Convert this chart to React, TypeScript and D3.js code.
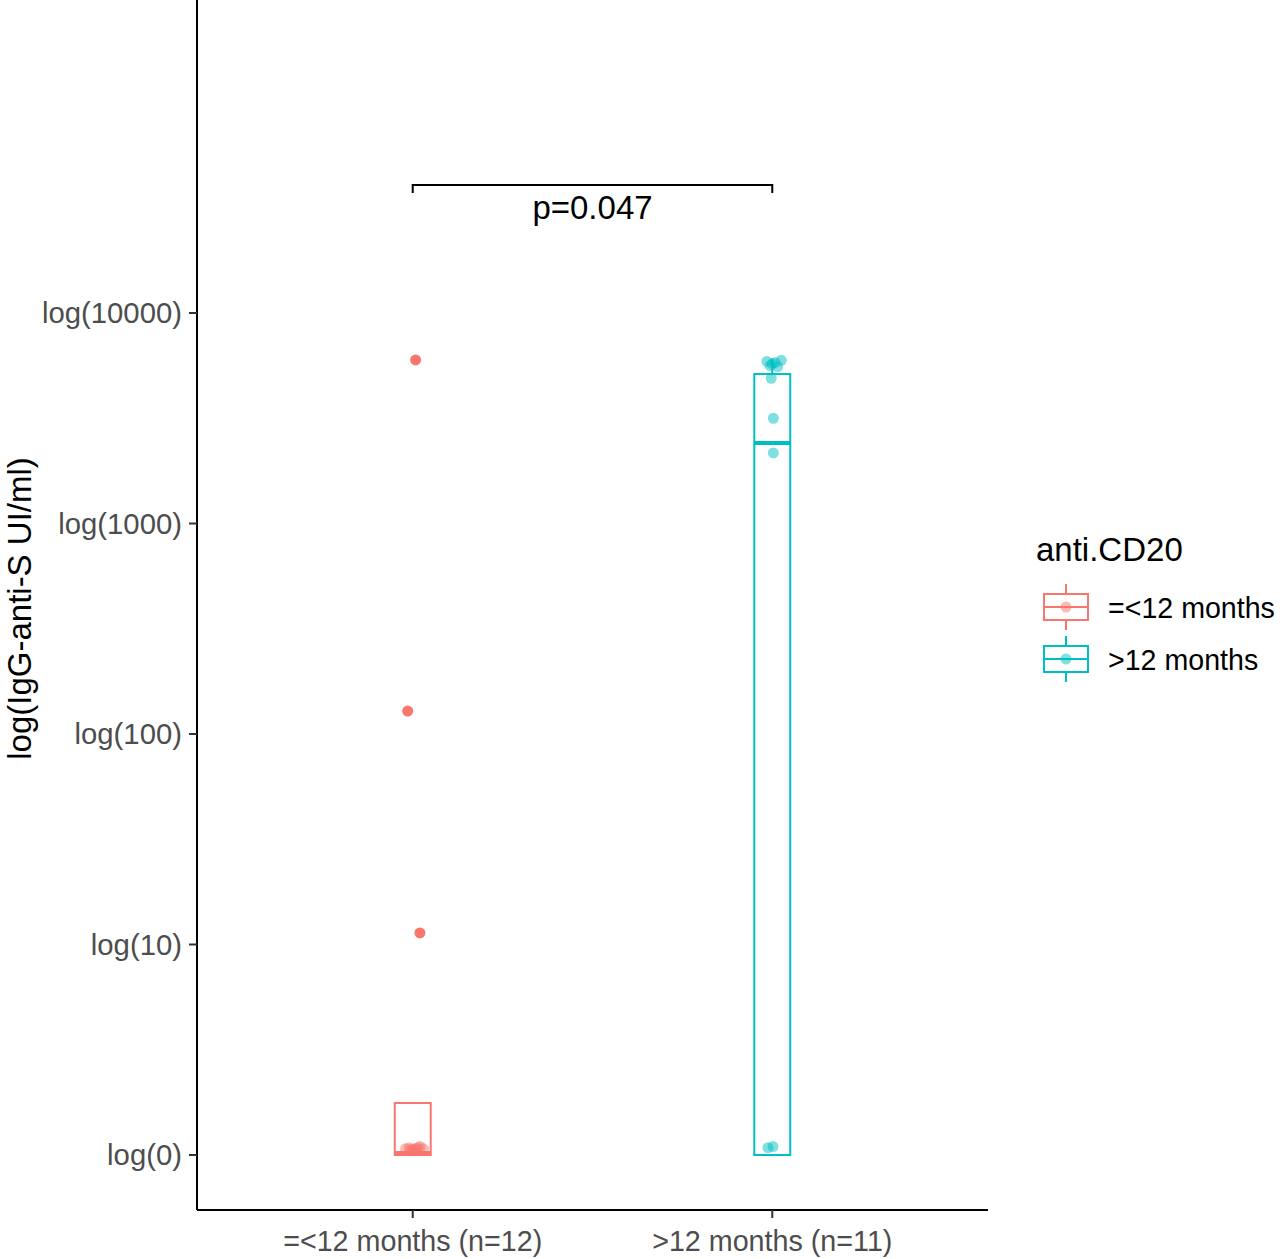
import * as d3 from 'd3';
import { useEffect, useRef } from 'react';

// categories / legend
const groups = ['=<12 months', '>12 months'];
const groupCounts = [12, 11];
const colors = ['#F8766D', '#00BFC4'];

// y ticks (log10 scale)
const tickValues = [0, 1, 2, 3, 4];
const tickLabels = ['log(0)', 'log(10)', 'log(100)', 'log(1000)', 'log(10000)'];

// box statistics: [lower, q1, median, q3, upper]
const boxStats = [
  [0, 0, 0.01, 0.247, 0.247],
  [0, 0, 3.382, 3.71, 3.78],
];

// jittered points: value (log10), x jitter (category units), outlier flag
const pts1 = [3.777, 2.109, 1.055, 0.03, 0.035, 0.025, 0.03, 0.04, 0.03, 0.025, 0.035, 0.03];
const jit1 = [0.008, -0.014, 0.02, -0.02, -0.01, 0.0, 0.01, 0.02, 0.03, -0.005, 0.015, 0.005];
const out1 = [true, true, true, false, false, false, false, false, false, false, false, false];

const pts2 = [3.77, 3.76, 3.745, 3.775, 3.765, 3.75, 3.69, 3.50, 3.335, 0.035, 0.04];
const jit2 = [-0.015, 0.0, 0.015, 0.025, 0.008, -0.006, -0.003, 0.003, 0.003, -0.012, 0.002];

const pValue = 'p=0.047';

export default function App() {
  const ref = useRef<SVGSVGElement>(null);

  useEffect(() => {
    const w = 1280, h = 1259;
    const left = 197, right = 988, top = 0, bottom = 1210;
    const font = '"Liberation Sans", Arial, sans-serif';

    const svg = d3.select(ref.current);
    svg.selectAll('*').remove();
    svg.attr('width', w).attr('height', h);

    const x = d3.scaleLinear().domain([0.4, 2.6]).range([left, right]);
    const y = d3.scaleLinear().domain([0, 4]).range([1155, 313]);

    // axes
    svg.append('line')
      .attr('x1', left).attr('x2', left).attr('y1', top).attr('y2', bottom)
      .attr('stroke', '#000').attr('stroke-width', 2);
    svg.append('line')
      .attr('x1', left).attr('x2', right).attr('y1', bottom).attr('y2', bottom)
      .attr('stroke', '#000').attr('stroke-width', 2);

    tickValues.forEach((v, i) => {
      svg.append('line')
        .attr('x1', left - 8).attr('x2', left).attr('y1', y(v)).attr('y2', y(v))
        .attr('stroke', '#333').attr('stroke-width', 2);
      svg.append('text')
        .attr('x', left - 15).attr('y', y(v))
        .attr('dy', '0.35em')
        .attr('text-anchor', 'end')
        .style('font-family', font).style('font-size', '29.3px')
        .style('fill', '#4D4D4D')
        .text(tickLabels[i]);
    });

    groups.forEach((g, i) => {
      const cx = x(i + 1);
      svg.append('line')
        .attr('x1', cx).attr('x2', cx).attr('y1', bottom).attr('y2', bottom + 8)
        .attr('stroke', '#333').attr('stroke-width', 2);
      svg.append('text')
        .attr('x', cx).attr('y', bottom + 41)
        .attr('text-anchor', 'middle')
        .style('font-family', font).style('font-size', '28.7px')
        .style('fill', '#4D4D4D')
        .text(`${g} (n=${groupCounts[i]})`);
    });

    svg.append('text')
      .attr('transform', `translate(31, ${(455 + 762) / 2}) rotate(-90)`)
      .attr('text-anchor', 'middle')
      .style('font-family', font).style('font-size', '33px')
      .style('fill', '#000')
      .text('log(IgG-anti-S UI/ml)');

    // boxplots
    const halfW = (x(1.05) - x(1));
    boxStats.forEach((s, i) => {
      const [lo, q1, med, q3, hi] = s;
      const cx = x(i + 1);
      const g = svg.append('g').attr('stroke', colors[i]).attr('fill', 'none');
      g.append('line').attr('x1', cx).attr('x2', cx).attr('y1', y(q3)).attr('y2', y(hi)).attr('stroke-width', 2);
      g.append('line').attr('x1', cx).attr('x2', cx).attr('y1', y(q1)).attr('y2', y(lo)).attr('stroke-width', 2);
      g.append('rect')
        .attr('x', cx - halfW).attr('width', halfW * 2)
        .attr('y', y(q3)).attr('height', y(q1) - y(q3))
        .attr('fill', '#fff').attr('stroke-width', 2);
      g.append('line')
        .attr('x1', cx - halfW).attr('x2', cx + halfW)
        .attr('y1', y(med)).attr('y2', y(med))
        .attr('stroke-width', 4);
    });

    // points
    const drawPts = (vals: number[], jit: number[], out: boolean[] | null, i: number) => {
      vals.forEach((v, k) => {
        svg.append('circle')
          .attr('cx', x(i + 1 + jit[k]))
          .attr('cy', y(v))
          .attr('r', 5.5)
          .attr('fill', colors[i])
          .attr('fill-opacity', out && out[k] ? 1 : 0.5);
      });
    };
    drawPts(pts1, jit1, out1, 0);
    drawPts(pts2, jit2, null, 1);

    // significance bracket
    const by = 185;
    const bx1 = x(1), bx2 = x(2);
    svg.append('path')
      .attr('d', `M${bx1},${by + 8}V${by}H${bx2}V${by + 8}`)
      .attr('fill', 'none').attr('stroke', '#000').attr('stroke-width', 2);
    svg.append('text')
      .attr('x', (bx1 + bx2) / 2).attr('y', 219)
      .attr('text-anchor', 'middle')
      .style('font-family', font).style('font-size', '33px')
      .style('fill', '#000')
      .text(pValue);

    // legend
    const lg = svg.append('g');
    lg.append('text')
      .attr('x', 1036).attr('y', 561)
      .style('font-family', font).style('font-size', '33px')
      .style('fill', '#000')
      .text('anti.CD20');
    groups.forEach((g, i) => {
      const cy = 607 + i * 52;
      const kx = 1066;
      const k = lg.append('g').attr('stroke', colors[i]).attr('fill', 'none').attr('stroke-width', 2);
      k.append('line').attr('x1', kx).attr('x2', kx).attr('y1', cy - 23).attr('y2', cy + 23);
      k.append('rect').attr('x', kx - 22).attr('y', cy - 13).attr('width', 44).attr('height', 26).attr('fill', '#fff');
      k.append('line').attr('x1', kx - 22).attr('x2', kx + 22).attr('y1', cy).attr('y2', cy);
      lg.append('circle').attr('cx', kx).attr('cy', cy).attr('r', 5.5)
        .attr('fill', colors[i]).attr('fill-opacity', 0.5);
      lg.append('text')
        .attr('x', 1108).attr('y', cy + 1)
        .attr('dy', '0.35em')
        .style('font-family', font).style('font-size', '28.6px')
        .style('fill', '#000')
        .text(g);
    });
  }, []);

  return (
    <div style={{ position: 'absolute', left: 0, top: 0 }}>
      <svg ref={ref} style={{ display: 'block', background: '#fff' }} />
    </div>
  );
}
